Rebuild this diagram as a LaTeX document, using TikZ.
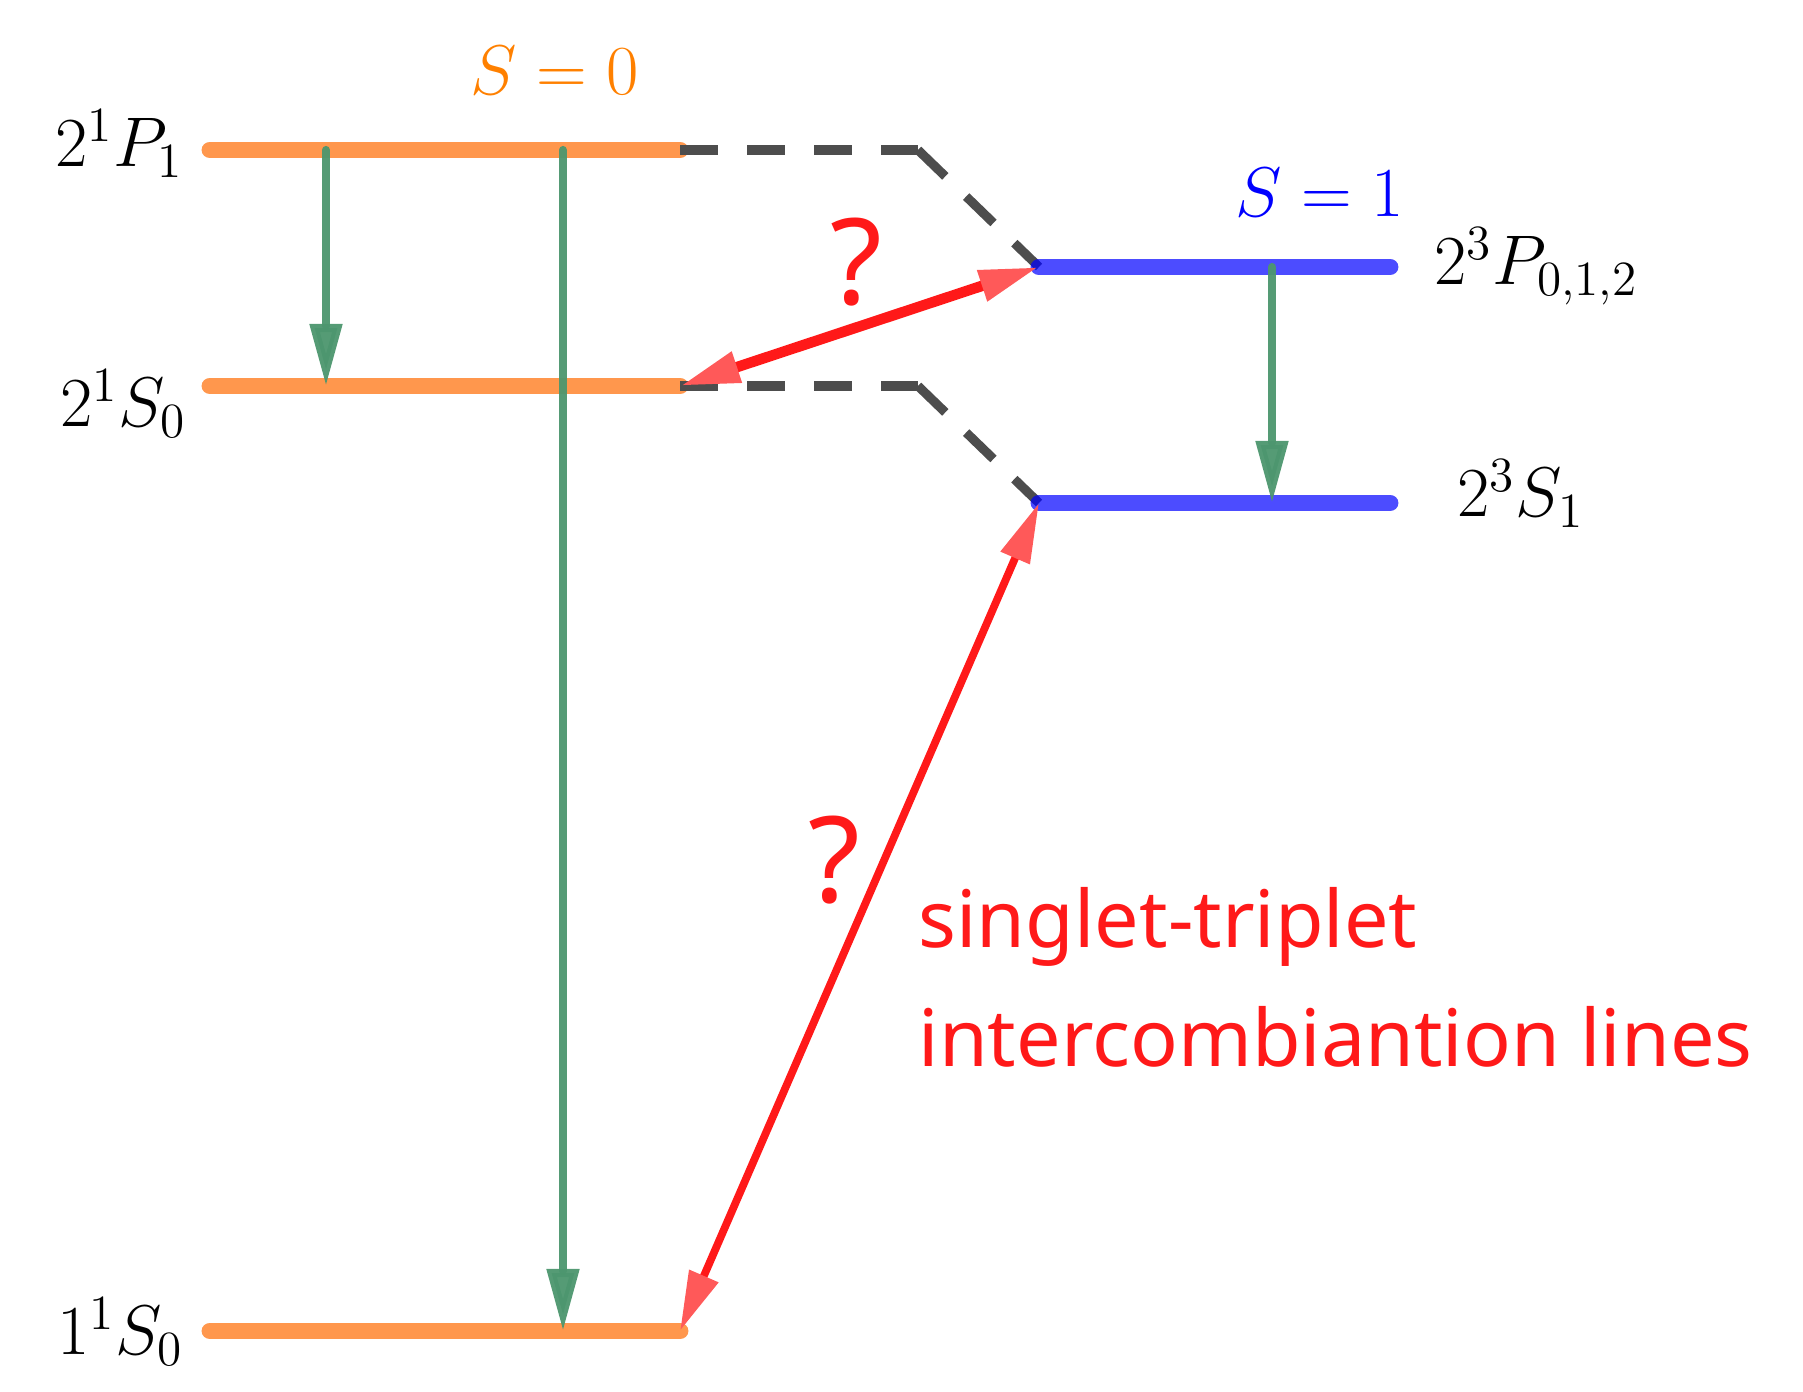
\RequirePackage{fix-cm}
\documentclass[tikz,border=0pt]{standalone}
\usepackage{fontspec}
\usepackage{xcolor}
\usetikzlibrary{arrows.meta,positioning}
\newfontfamily\notosans{Noto Sans}

\definecolor{singletorange}{RGB}{255,151,77}
\definecolor{spinorange}{RGB}{255,128,0}
\definecolor{decaygreen}{RGB}{76,150,110}
\definecolor{linkgray}{RGB}{77,77,77}
\definecolor{icred}{RGB}{255,25,25}

\begin{document}
\begin{tikzpicture}[
            singlet/.style={line width=4.8pt, line cap=round, singletorange},
            triplet/.style={line width=4.8pt, line cap=round, blue, opacity=0.7},
            decay/.style={line width=2.3pt, line cap=round, decaygreen, opacity=0.95, -{Triangle[length=0.62cm, width=0.31cm]}},
            link/.style={line width=2.6pt, linkgray, dash pattern=on 0.38cm off 0.29cm},
            interc/.style={icred, {Triangle[length=0.6cm, width=0.3cm, color=icred!72]}-{Triangle[length=0.6cm, width=0.3cm, color=icred!72]}},
            term/.style={font=\fontsize{20}{24}\selectfont, inner sep=0pt},
            spin/.style={font=\fontsize{20}{24}\selectfont, inner sep=0pt},
            query/.style={icred, font=\notosans\fontsize{34}{40}\selectfont, inner sep=0pt},
            note/.style={icred, font=\notosans\fontsize{22.5}{27}\selectfont, inner sep=0pt}
        ]
        \useasboundingbox (0,0) rectangle (18.03,13.92);

        % singlet levels
        \coordinate (p1L) at (2.10,12.42);
        \coordinate (p1R) at (6.80,12.42);
        \coordinate (s0L) at (2.10,10.06);
        \coordinate (s0R) at (6.80,10.06);
        \coordinate (g0L) at (2.10,0.61);
        \coordinate (g0R) at (6.80,0.61);
        % triplet levels
        \coordinate (tpL) at (10.39,11.25);
        \coordinate (tpR) at (13.90,11.25);
        \coordinate (tsL) at (10.39,8.89);
        \coordinate (tsR) at (13.90,8.89);
        % bends of the dashed links
        \coordinate (bendP) at (9.18,12.42);
        \coordinate (bendS) at (9.18,10.06);

        \draw[singlet] (p1L) -- (p1R);
        \draw[singlet] (s0L) -- (s0R);
        \draw[singlet] (g0L) -- (g0R);

        \draw[link] (p1R) -- (bendP);
        \draw[link] (bendP) -- (tpL);
        \draw[link] (s0R) -- (bendS);
        \draw[link] (bendS) -- (tsL);

        \draw[triplet] (tpL) -- (tpR);
        \draw[triplet] (tsL) -- (tsR);

        % labels
        \node[term, anchor=base east] (p1lab) at (1.84,12.25) {$2^1P_1$};
        \node[term, anchor=base east] (s0lab) at (1.87,9.65) {$2^1S_0$};
        \node[term, anchor=base east] (g0lab) at (1.84,0.37) {$1^1S_0$};
        \node[term, anchor=base west] (tplab) at (14.34,11.07) {$2^3P_{0,1,2}$};
        \node[term, anchor=base west] (tslab) at (14.57,8.75) {$2^3S_1$};
        \node[spin, spinorange, anchor=base] (singlet) at (5.55,12.97) {$S=0$};
        \node[spin, blue, anchor=base] (triplet) at (13.20,11.75) {$S=1$};

        % allowed decays
        \coordinate (d1) at (3.26,12.42);
        \coordinate (d2) at (5.63,12.42);
        \coordinate (d3) at (12.72,11.25);
        \draw[decay] (d1) -- (d1 |- s0L);
        \draw[decay] (d2) -- (d2 |- g0L);
        \draw[decay] (d3) -- (d3 |- tsL);

        % intercombination lines
        \draw[interc, line width=3pt] (s0R) -- (tpL);
        \draw[interc, line width=2.2pt] (g0R) -- (tsL);
        \node[query, anchor=base] (q1) at (8.56,10.87) {?};
        \node[query, anchor=base] (q2) at (8.34,4.89) {?};

        \node[note, anchor=base west] (note1) at (9.18,4.44) {singlet-triplet};
        \node[note, anchor=base west] (note2) at ([yshift=-1.19cm]note1.base west) {intercombiantion lines};

        \end{tikzpicture}
\end{document}
